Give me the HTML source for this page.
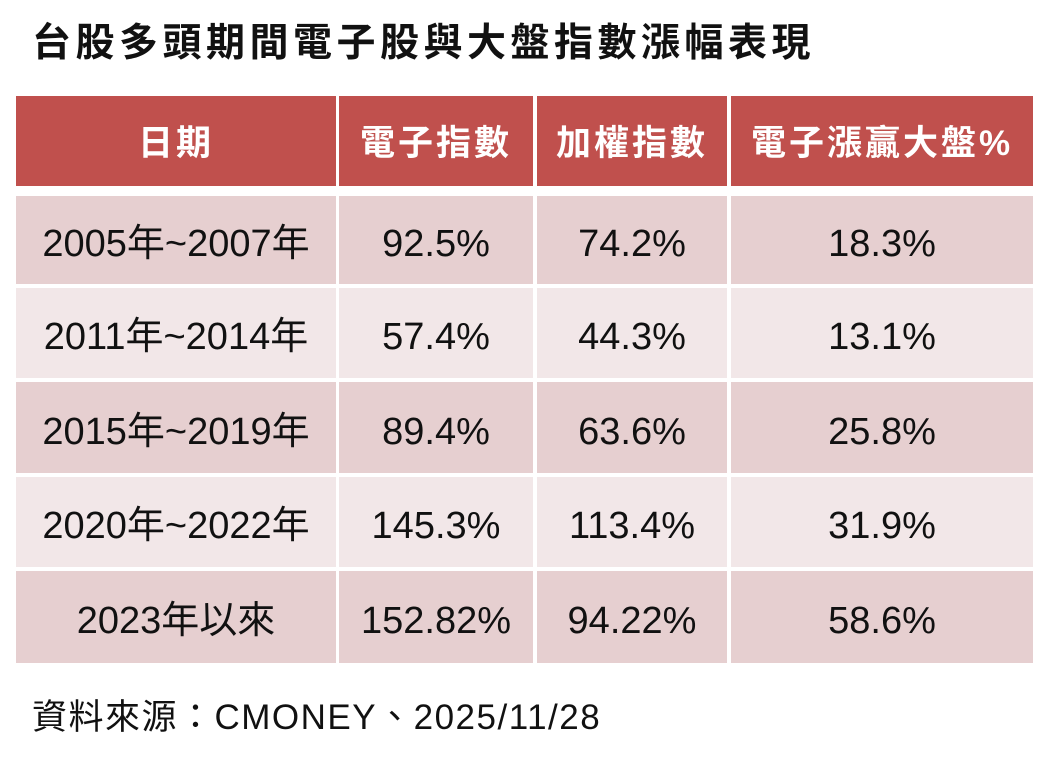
<!DOCTYPE html>
<html><head><meta charset="utf-8"><style>
body{margin:0;width:1049px;height:762px;background:#fff;position:relative;overflow:hidden;font-family:"Liberation Sans","Noto Sans CJK TC",sans-serif;}
.t{position:absolute;left:32px;top:22px;font-size:39px;line-height:44px;font-weight:bold;color:#111;letter-spacing:4.5px;white-space:nowrap;}
.c{position:absolute;display:flex;align-items:center;justify-content:center;font-size:38px;line-height:1;color:#111;box-sizing:border-box;padding-top:8px;white-space:nowrap;}
.h{background:#c0504d;color:#fff;font-weight:bold;font-size:35px;letter-spacing:3px;padding-top:4px;}
.a{background:#e6cfd0;}.b{background:#f2e7e8;}
.s{position:absolute;left:32px;top:698px;font-size:35px;line-height:40px;color:#111;letter-spacing:1.5px;white-space:nowrap;}
</style></head><body>
<div class="t">台股多頭期間電子股與大盤指數漲幅表現</div>
<div class="c h" style="left:16px;top:96px;width:320px;height:90px">日期</div>
<div class="c h" style="left:339px;top:96px;width:194px;height:90px">電子指數</div>
<div class="c h" style="left:537px;top:96px;width:190px;height:90px">加權指數</div>
<div class="c h" style="left:731px;top:96px;width:302px;height:90px">電子漲贏大盤%</div>

<div class="c a" style="left:16px;top:196px;width:320px;height:88px">2005年~2007年</div>
<div class="c a" style="left:339px;top:196px;width:194px;height:88px">92.5%</div>
<div class="c a" style="left:537px;top:196px;width:190px;height:88px">74.2%</div>
<div class="c a" style="left:731px;top:196px;width:302px;height:88px">18.3%</div>

<div class="c b" style="left:16px;top:288px;width:320px;height:90px">2011年~2014年</div>
<div class="c b" style="left:339px;top:288px;width:194px;height:90px">57.4%</div>
<div class="c b" style="left:537px;top:288px;width:190px;height:90px">44.3%</div>
<div class="c b" style="left:731px;top:288px;width:302px;height:90px">13.1%</div>

<div class="c a" style="left:16px;top:382px;width:320px;height:91px">2015年~2019年</div>
<div class="c a" style="left:339px;top:382px;width:194px;height:91px">89.4%</div>
<div class="c a" style="left:537px;top:382px;width:190px;height:91px">63.6%</div>
<div class="c a" style="left:731px;top:382px;width:302px;height:91px">25.8%</div>

<div class="c b" style="left:16px;top:477px;width:320px;height:90px">2020年~2022年</div>
<div class="c b" style="left:339px;top:477px;width:194px;height:90px">145.3%</div>
<div class="c b" style="left:537px;top:477px;width:190px;height:90px">113.4%</div>
<div class="c b" style="left:731px;top:477px;width:302px;height:90px">31.9%</div>

<div class="c a" style="left:16px;top:571px;width:320px;height:92px">2023年以來</div>
<div class="c a" style="left:339px;top:571px;width:194px;height:92px">152.82%</div>
<div class="c a" style="left:537px;top:571px;width:190px;height:92px">94.22%</div>
<div class="c a" style="left:731px;top:571px;width:302px;height:92px">58.6%</div>

<div class="s">資料來源：CMONEY、2025/11/28</div>
</body></html>
